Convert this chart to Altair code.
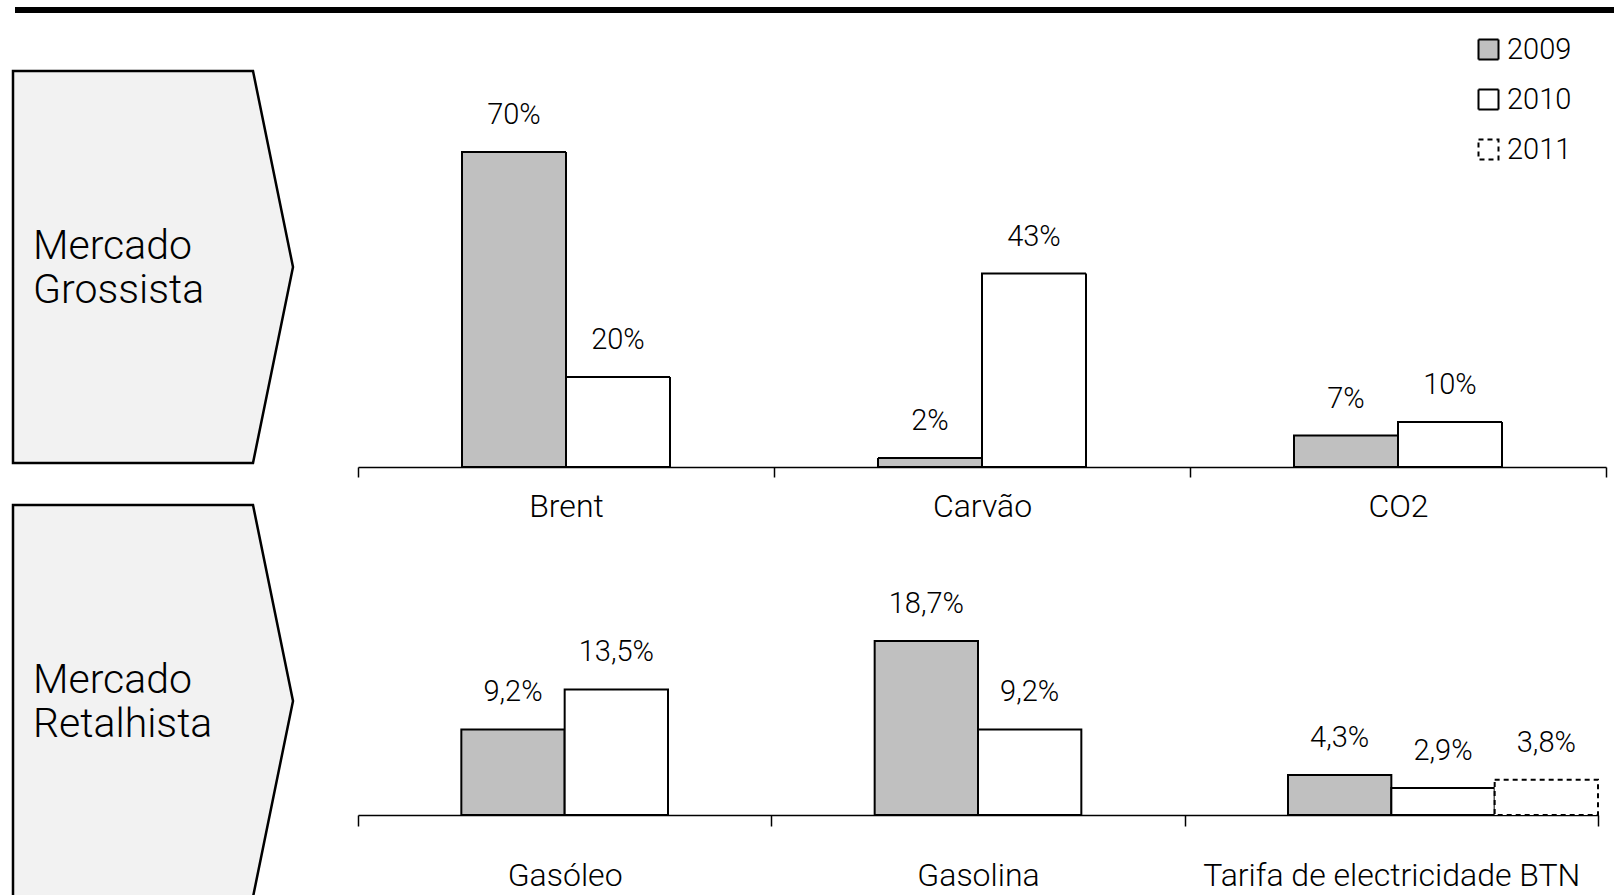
import altair as alt
import pandas as pd

# ---------------- data ----------------
years = ["2009", "2010", "2011"]

wholesale_cats = ["Brent", "Carvão", "CO2"]
wholesale_2009 = [70, 2, 7]
wholesale_2010 = [20, 43, 10]

retail_cats = ["Gasóleo", "Gasolina", "Tarifa de electricidade BTN"]
retail_2009 = [9.2, 18.7, 4.3]
retail_2010 = [13.5, 9.2, 2.9]
retail_2011 = [None, None, 3.8]

box_titles = ["Mercado\nGrossista", "Mercado\nRetalhista"]


def to_long(cats, series, decimals):
    rows = []
    for year, vals in zip(years, series):
        for c, v in zip(cats, vals):
            if v is None:
                continue
            lab = f"{v:.{decimals}f}".replace(".", ",") + "%"
            rows.append({"cat": c, "year": year, "value": v, "label": lab})
    return pd.DataFrame(rows)


df1 = to_long(wholesale_cats, [wholesale_2009, wholesale_2010], 0)
df2 = to_long(retail_cats, [retail_2009, retail_2010, retail_2011], 1)

# ---------------- styling ----------------
FONT = "Roboto"
FW = 300
W, H = 1248, 775
PAD_L, PAD_T, PAD_R, PAD_B = 358, 40, 8, 80

fill_scale = alt.Scale(domain=years, range=["#c0c0c0", "#ffffff", "#ffffff"])
stroke_scale = alt.Scale(domain=years, range=["#000000", "#000000", "#000000"])
dash_scale = alt.Scale(domain=years, range=[[1, 0], [1, 0], [5, 4]])
legend = alt.Legend(
    title=None, orient="none", legendX=1116, legendY=-5,
    symbolType="square", symbolSize=400, symbolStrokeColor="black",
    symbolStrokeWidth=2, labelFontSize=29, labelFont=FONT, labelColor="black",
    labelFontWeight=FW, labelOffset=4, rowPadding=20, padding=0,
)


def panel(df, cats, xscale, ydomain, axis_offset, tick_size, label_pad):
    axis = alt.Axis(
        orient="bottom", offset=axis_offset, title=None, grid=False,
        domainColor="black", domainWidth=1.5, tickColor="black", tickWidth=1.5,
        tickSize=tick_size, tickBand="extent", labelFontSize=32, labelFont=FONT,
        labelFontWeight=FW, labelColor="black", labelBaseline="alphabetic",
        labelPadding=label_pad, labelAngle=0, labelLimit=0, labelOverlap=False,
    )
    x = alt.X("cat:N", sort=cats, scale=xscale, axis=axis)
    xo = alt.XOffset(
        "year:N",
        scale=alt.Scale(domain=years, paddingInner=0, paddingOuter=0.5, align=1),
    )
    y = alt.Y("value:Q", stack=None, axis=None,
              scale=alt.Scale(domain=ydomain, nice=False, zero=False))
    base = alt.Chart(df)
    bars = base.mark_bar(strokeWidth=2).encode(
        x=x, xOffset=xo, y=y,
        fill=alt.Fill("year:N", scale=fill_scale, legend=legend),
        stroke=alt.Stroke("year:N", scale=stroke_scale, legend=legend),
        strokeDash=alt.StrokeDash("year:N", scale=dash_scale, legend=legend),
    )
    labels = base.mark_text(
        dy=-28, baseline="alphabetic", align="center", fontSize=29,
        font=FONT, fontWeight=FW, color="black",
    ).encode(x=x, xOffset=xo, y=y, text="label:N")
    return alt.layer(bars, labels)


row1 = panel(
    df1, wholesale_cats,
    alt.Scale(paddingInner=0, paddingOuter=0),
    [-77.333, 94.889], -348, 10, 39,
)
row2 = panel(
    df2, retail_cats,
    alt.Scale(paddingInner=0, paddingOuter=0, range=[0, 1240]),
    [0, 83.333], 0, 11, 59,
)

dummy = pd.DataFrame({"k": [0]})
top_rule = alt.Chart(dummy).mark_rule(color="black", strokeWidth=6).encode(
    x=alt.value(-343), x2=alt.value(1262), y=alt.value(-30)
)

BOX_PATH = "M-0.7143,-1 L0.5102,-1 L0.7143,0 L0.5102,1 L-0.7143,1 Z"


def box(cy, ty, title):
    shape = alt.Chart(dummy).mark_point(
        shape=BOX_PATH, size=153664, filled=True, fill="#f2f2f2",
        stroke="black", strokeWidth=2.5, opacity=1,
    ).encode(x=alt.value(-205), y=alt.value(cy))
    txt = alt.Chart(pd.DataFrame({"t": [title]})).mark_text(
        align="left", baseline="alphabetic", lineBreak="\n", lineHeight=44,
        fontSize=41, font=FONT, fontWeight=FW, color="black",
    ).encode(x=alt.value(-325), y=alt.value(ty), text="t:N")
    return shape + txt


box1 = box(227, 219, box_titles[0])
box2 = box(661, 653, box_titles[1])

chart = (
    alt.layer(top_rule, box1, box2, row1, row2)
    .resolve_scale(x="independent", y="independent", xOffset="independent")
    .properties(
        width=W, height=H,
        padding={"left": PAD_L, "top": PAD_T, "right": PAD_R, "bottom": PAD_B},
        autosize=alt.AutoSizeParams(type="none"),
        background="white",
    )
    .configure_view(stroke=None)
)

chart.save("out.html", embed_options={"renderer": "svg", "actions": False})
